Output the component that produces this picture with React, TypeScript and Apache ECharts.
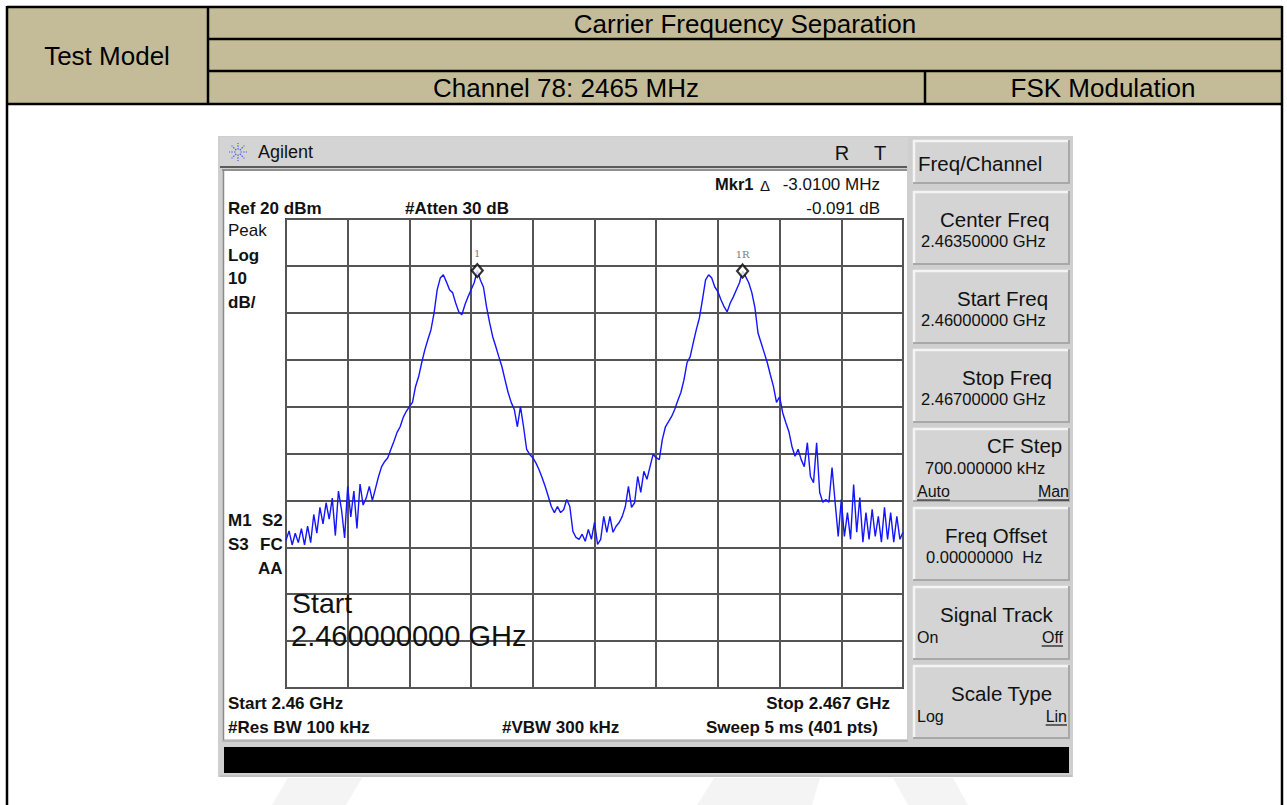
import React, { useEffect, useRef } from 'react';
import * as echarts from 'echarts';

// ---- Trace data: 201 sweep points, 2.460 GHz .. 2.467 GHz, level in dBm ----
const levelsDbm: number[] = [
  -48.5, -46.5, -49.5, -47, -49, -46, -49.5, -45.5, -49, -43,
  -47, -41.5, -45, -40.5, -44, -39.5, -47.5, -38, -42, -48,
  -37, -43.5, -38, -46, -36.5, -41, -39.5, -37, -40, -37.5,
  -34.9, -32.8, -31.7, -30.9, -29.1, -27.4, -25.5, -24.3, -22.3, -21,
  -20, -19.1, -15.7, -13.6, -10.6, -7.9, -5.7, -3.6, 0, 4.9,
  7.4, 8.1, 6.6, 4.9, 4.3, 2.1, 0.2, -0.4, 1.7, 3.4,
  4.9, 6.4, 9.0, 7, 5.5, 1.3, -2.1, -5.1, -7.2, -9.4,
  -11.5, -14.3, -17, -19.1, -20.6, -24.3, -20, -24.3, -29.1, -30.2,
  -30.9, -32, -33.4, -35.1, -37, -39.1, -41.3, -42.6, -41.3, -42.6,
  -42, -39.8, -41.3, -46.6, -47.9, -48.3, -47.2, -48.7, -46.2, -48.3,
  -44.7, -49.4, -48.3, -43.4, -46.8, -43.4, -46.8, -45.5, -44.7, -43.4,
  -41.3, -37, -41.5, -40.5, -34.9, -38.3, -33.8, -35.5, -32.8, -30.2,
  -30.9, -31.3, -27, -24.3, -23.2, -22.1, -20.6, -18.7, -17, -14.3,
  -10.6, -9.4, -6.4, -3.6, -1.1, 2.8, 7, 8.1, 7.4, 5.5,
  4.5, 2.8, 1.3, 0.2, 2.1, 3.4, 4.9, 6.4, 8.9, 7.7,
  6.4, 4.3, 1.1, -4.3, -6.4, -8.5, -10.6, -13.2, -15.7, -19.1,
  -17.9, -21.3, -23.4, -25.3, -28.5, -30.6, -29.1, -31.3, -32.8, -27.7,
  -34.9, -36.2, -27.7, -38.3, -40.4, -39.8, -40.4, -33, -40.4, -47.7,
  -39.8, -47.7, -42.6, -48.3, -36.6, -46.8, -39.4, -48.9, -42.6, -48.3,
  -41.9, -47.7, -43.4, -48.9, -41.5, -48.3, -42.6, -48.9, -43.4, -48.3,
  -46.8,
];
const lastPointIndex = 200;
const pointsPerDiv = 20;
const refLevelDbm = 20;
const bottomLevelDbm = -80;
const dbPerDiv = 10;
const markerIndices = [62, 148];
const markerNames = ['1', '1R'];

// ---- Texts ----
const headerTitle = 'Carrier Frequency Separation';
const headerLeft = 'Test Model';
const headerChannel = 'Channel 78: 2465 MHz';
const headerModulation = 'FSK Modulation';
const softkeyTop = 'Freq/Channel';
const softkeyTitles = ['Center Freq', 'Start Freq', 'Stop Freq', 'CF Step', 'Freq Offset', 'Signal Track', 'Scale Type'];
const softkeyValues = ['2.46350000 GHz', '2.46000000 GHz', '2.46700000 GHz', '700.000000 kHz', '0.00000000  Hz', '', ''];
const softkeyOptions: (string[] | null)[] = [null, null, null, ['Auto', 'Man'], null, ['On', 'Off'], ['Log', 'Lin']];
const softkeyUnderlined: (boolean[] | null)[] = [null, null, null, [true, true], null, [false, true], [false, true]];

const FONT = '"Liberation Sans", Arial, Helvetica, sans-serif';
const TAN = '#c4bc98';

function T(x: number, y: number, text: string, size: number, o: any = {}) {
  const align = o.align || 'left';
  return {
    type: 'text', x, y, z: o.z ?? 60, silent: true,
    style: {
      text, fontSize: size, fontFamily: o.family || FONT,
      fontWeight: o.bold ? 'bold' : 'normal', fill: o.color || '#111',
      align, textAlign: align, verticalAlign: 'middle', textVerticalAlign: 'middle',
    },
  };
}
function R(x: number, y: number, w: number, h: number, style: any, z = -5) {
  return { type: 'rect', z, silent: true, shape: { x, y, width: w, height: h }, style };
}
function L(x1: number, y1: number, x2: number, y2: number, stroke: string, lw: number, z = 40) {
  return { type: 'line', z, silent: true, shape: { x1, y1, x2, y2 }, style: { stroke, lineWidth: lw } };
}
// approximate advance widths (em) for underline lengths
const charEm: Record<string, number> = { A: 0.667, u: 0.556, t: 0.278, o: 0.556, M: 0.833, a: 0.556, n: 0.556, O: 0.778, f: 0.278, L: 0.556, i: 0.222 };
const textWidth = (s: string, size: number) => s.split('').reduce((acc, c) => acc + (charEm[c] ?? 0.556), 0) * size;

function buildGraphics() {
  const g: any[] = [];
  // ---- Table header ----
  g.push(R(7, 7, 1275, 97, { fill: TAN }, -8));
  g.push(L(7, 7, 1282, 7, '#000', 2.5));
  g.push(L(7, 6, 7, 805, '#000', 2.5));
  g.push(L(1282, 6, 1282, 805, '#000', 2.5));
  g.push(L(208, 7, 208, 104, '#000', 2.5));
  g.push(L(208, 39, 1282, 39, '#000', 2.5));
  g.push(L(208, 71, 1282, 71, '#000', 2.5));
  g.push(L(7, 104, 1282, 104, '#000', 2.5));
  g.push(L(925, 71, 925, 104, '#000', 2.5));
  g.push(T(107, 56, headerLeft, 26, { align: 'center', color: '#000' }));
  g.push(T(745, 24, headerTitle, 26, { align: 'center', color: '#000' }));
  g.push(T(566, 88, headerChannel, 26, { align: 'center', color: '#000' }));
  g.push(T(1103, 88, headerModulation, 26, { align: 'center', color: '#000' }));

  // ---- Watermark stripes ----
  g.push({ type: 'polygon', z: -9, silent: true, shape: { points: [[272, 805], [288, 778], [362, 778], [346, 805]] }, style: { fill: '#f4f4f4' } });
  g.push({ type: 'polygon', z: -9, silent: true, shape: { points: [[697, 805], [714, 778], [820, 778], [812, 805]] }, style: { fill: '#f4f4f4' } });
  g.push({ type: 'polygon', z: -9, silent: true, shape: { points: [[893, 778], [953, 778], [968, 805], [908, 805]] }, style: { fill: '#f4f4f4' } });

  // ---- Analyzer frame ----
  g.push(R(218, 136, 855, 641, { fill: '#cfcfcf' }, -7));
  g.push(R(220, 137, 688, 29, { fill: '#d4d4d4' }, -6));
  g.push(R(224, 171, 683, 568, { fill: '#ffffff' }, -6));
  g.push(L(220, 167, 907, 167, '#333', 1.5, -4));
  g.push(L(222, 170, 907, 170, '#555', 1.2, -4));
  g.push(L(223.5, 170, 223.5, 740, '#8a8a8a', 1.5, -4));
  g.push(L(222, 741, 908, 741, '#9a9a9a', 1.2, -4));
  g.push(R(224, 747, 845, 26, { fill: '#000' }, -4));
  g.push(L(220, 776, 1072, 776, '#b0b0b0', 1, -4));
  // Agilent logo (starburst)
  const cx = 238, cy = 152;
  for (let k = 0; k < 8; k++) {
    const a = (k * Math.PI) / 4;
    g.push({
      type: 'line', z: 50, silent: true,
      shape: { x1: cx + Math.cos(a) * 2.5, y1: cy + Math.sin(a) * 2.5, x2: cx + Math.cos(a) * 9, y2: cy + Math.sin(a) * 9 },
      style: { stroke: '#4a5de0', lineWidth: 1.2, lineDash: [1.5, 1.2] },
    });
  }
  g.push(T(258, 152, 'Agilent', 18, {}));
  g.push(T(842, 153, 'R', 20, { align: 'center' }));
  g.push(T(880, 153, 'T', 20, { align: 'center' }));

  // ---- Screen annotations ----
  g.push(T(715, 184, 'Mkr1', 16.5, { bold: true }));
  g.push(T(760, 185, 'Δ', 15, {}));
  g.push(T(880, 184, '-3.0100 MHz', 17, { align: 'right' }));
  g.push(T(880, 208, '-0.091 dB', 17, { align: 'right' }));
  g.push(T(228, 208, 'Ref 20 dBm', 17, { bold: true }));
  g.push(T(405, 208, '#Atten 30 dB', 17, { bold: true }));
  g.push(T(228, 230, 'Peak', 17, {}));
  g.push(T(228, 255, 'Log', 17, { bold: true }));
  g.push(T(228, 278, '10', 17, { bold: true }));
  g.push(T(228, 302, 'dB/', 17, { bold: true }));
  g.push(T(228, 520, 'M1', 17, { bold: true }));
  g.push(T(262, 520, 'S2', 17, { bold: true }));
  g.push(T(228, 544, 'S3', 17, { bold: true }));
  g.push(T(260, 544, 'FC', 17, { bold: true }));
  g.push(T(258, 568, 'AA', 17, { bold: true }));
  g.push(T(292, 603, 'Start', 28.5, { color: '#111', z: 80 }));
  g.push(T(291, 636, '2.460000000 GHz', 29, { color: '#111', z: 80 }));
  g.push(T(228, 703, 'Start 2.46 GHz', 17, { bold: true }));
  g.push(T(890, 703, 'Stop 2.467 GHz', 17, { bold: true, align: 'right' }));
  g.push(T(228, 727, '#Res BW 100 kHz', 17, { bold: true }));
  g.push(T(502, 727, '#VBW 300 kHz', 17, { bold: true }));
  g.push(T(878, 727, 'Sweep 5 ms (401 pts)', 17, { bold: true, align: 'right' }));

  // ---- Softkeys ----
  const key = (top: number, h: number) => {
    g.push(R(913, top, 157, h, { fill: '#d4d4d4' }, -5));
    g.push(L(913, top + 1, 1070, top + 1, '#f4f4f4', 2.5, -4));
    g.push(L(914, top, 914, top + h, '#f4f4f4', 2.5, -4));
    g.push(L(913, top + h - 1, 1070, top + h - 1, '#a8a8a8', 2, -4));
    g.push(L(1069, top, 1069, top + h, '#a8a8a8', 2, -4));
  };
  key(140, 44);
  g.push(T(918, 163, softkeyTop, 20.5, {}));
  const tops = [191, 270, 349, 428, 507, 586, 665];
  const labelX = [940, 957, 962, 987, 945, 940, 951];
  const valueX = [921, 921, 921, 925, 926];
  const optRight = [1069, 1069, 1069, 1069, 1069, 1063, 1067];
  softkeyTitles.forEach((title, i) => {
    const top = tops[i];
    key(top, 74);
    const isCF = title === 'CF Step';
    g.push(T(labelX[i], top + (isCF ? 17 : 28), title, 20.5, {}));
    if (softkeyValues[i]) g.push(T(valueX[i], top + (isCF ? 40 : 50), softkeyValues[i], 16.5, {}));
    const opts = softkeyOptions[i];
    if (opts) {
      const oy = top + (isCF ? 63 : 51);
      const right = optRight[i];
      g.push(T(917, oy, opts[0], 16, {}));
      g.push(T(right, oy, opts[1], 16, { align: 'right' }));
      const ul = softkeyUnderlined[i]!;
      const wl = textWidth(opts[0], 16);
      const wr = textWidth(opts[1], 16);
      if (ul[0]) g.push(L(917, oy + 9, 917 + wl, oy + 9, '#111', 1.2, 60));
      if (ul[1]) g.push(L(right - wr, oy + 9, right, oy + 9, '#111', 1.2, 60));
    }
  });
  return g;
}

export default function App() {
  const ref = useRef<HTMLDivElement>(null);
  useEffect(() => {
    if (!ref.current) return;
    const chart = echarts.init(ref.current, null, { renderer: 'svg' });
    const trace = levelsDbm.map((v, i) => [i, v]);
    const markers = markerIndices.map((idx, k) => ({ value: [idx, levelsDbm[idx]], name: markerNames[k] }));
    chart.setOption({
      animation: false,
      backgroundColor: '#ffffff',
      grid: {
        left: 286, top: 219, width: 617, height: 469,
        show: true, borderColor: '#3c3c3c', borderWidth: 2, backgroundColor: 'transparent',
      },
      xAxis: {
        type: 'value', min: 0, max: lastPointIndex, interval: pointsPerDiv,
        axisLine: { show: false }, axisTick: { show: false }, axisLabel: { show: false },
        splitLine: { show: true, lineStyle: { color: '#555555', width: 2 } },
      },
      yAxis: {
        type: 'value', min: bottomLevelDbm, max: refLevelDbm, interval: dbPerDiv,
        axisLine: { show: false }, axisTick: { show: false }, axisLabel: { show: false },
        splitLine: { show: true, lineStyle: { color: '#555555', width: 2 } },
      },
      series: [
        {
          type: 'line', data: trace, symbol: 'none', z: 5,
          lineStyle: { color: '#1414ff', width: 1.4 },
        },
        {
          type: 'scatter', data: markers, symbol: 'diamond', symbolSize: [11, 13], z: 6,
          itemStyle: { color: '#ffffff', borderColor: '#000000', borderWidth: 2.2 },
          label: {
            show: true, position: 'top', distance: 4, formatter: '{b}',
            fontSize: 10, fontFamily: '"DejaVu Serif", serif', color: '#5e5050',
          },
        },
      ],
      graphic: { elements: buildGraphics() },
    });
    return () => chart.dispose();
  }, []);
  return (
    <div
      ref={ref}
      style={{ position: 'fixed', left: 0, top: 0, width: 1287, height: 805, background: '#fff' }}
    />
  );
}
